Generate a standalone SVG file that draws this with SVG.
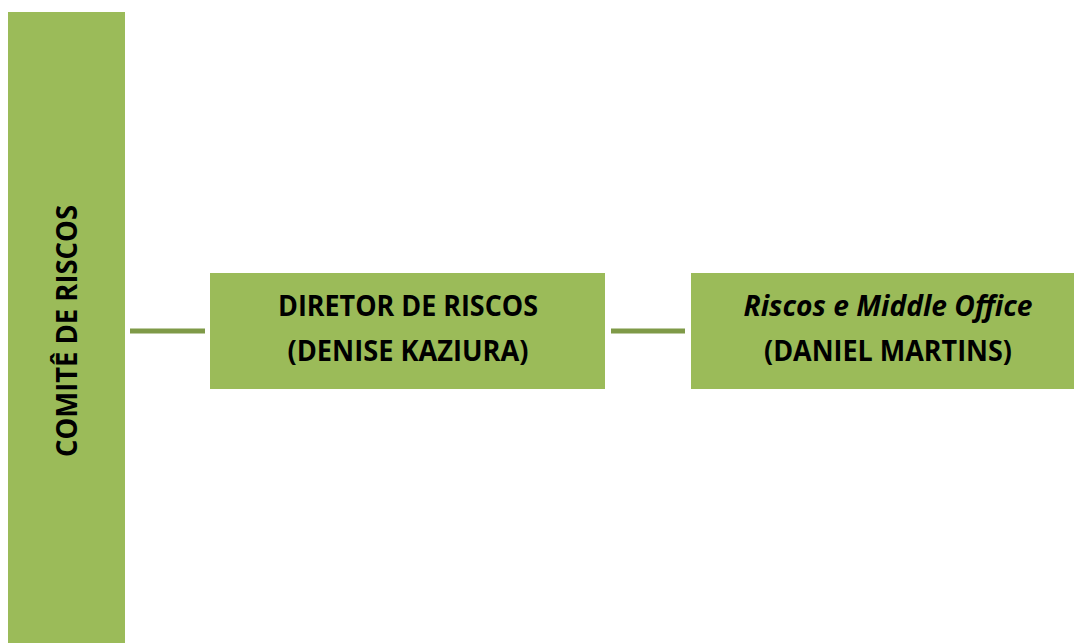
<svg xmlns="http://www.w3.org/2000/svg" width="1074" height="643" viewBox="0 0 1074 643">
<style>
.box{fill:#9bbb59;}
.t{font-family:"Open Sans","Liberation Sans",sans-serif;font-weight:bold;font-size:28.5px;fill:#000;text-anchor:middle;}
.conn{stroke:#7f9a48;stroke-width:5;fill:none;}
</style>
<rect width="1074" height="643" fill="#ffffff"/>
<g id="comite">
<rect class="box" x="8" y="12" width="117" height="640"/>
<text class="t" transform="translate(77,331) rotate(-90)" textLength="252" lengthAdjust="spacingAndGlyphs">COMITÊ DE RISCOS</text>
</g>
<g id="diretor">
<rect class="box" x="210" y="273" width="395" height="116"/>
<text class="t" x="408" y="316" textLength="260" lengthAdjust="spacingAndGlyphs">DIRETOR DE RISCOS</text>
<text class="t" x="408" y="361" textLength="241" lengthAdjust="spacingAndGlyphs">(DENISE KAZIURA)</text>
</g>
<g id="riscos">
<rect class="box" x="691" y="273" width="390" height="116"/>
<text class="t" x="888" y="316" font-style="italic" textLength="289" lengthAdjust="spacingAndGlyphs">Riscos e Middle Office</text>
<text class="t" x="888" y="361" textLength="248" lengthAdjust="spacingAndGlyphs">(DANIEL MARTINS)</text>
</g>
<g id="connectors">
<line class="conn" x1="130" y1="331" x2="205" y2="331"/>
<line class="conn" x1="611" y1="331" x2="685" y2="331"/>
</g>
</svg>
